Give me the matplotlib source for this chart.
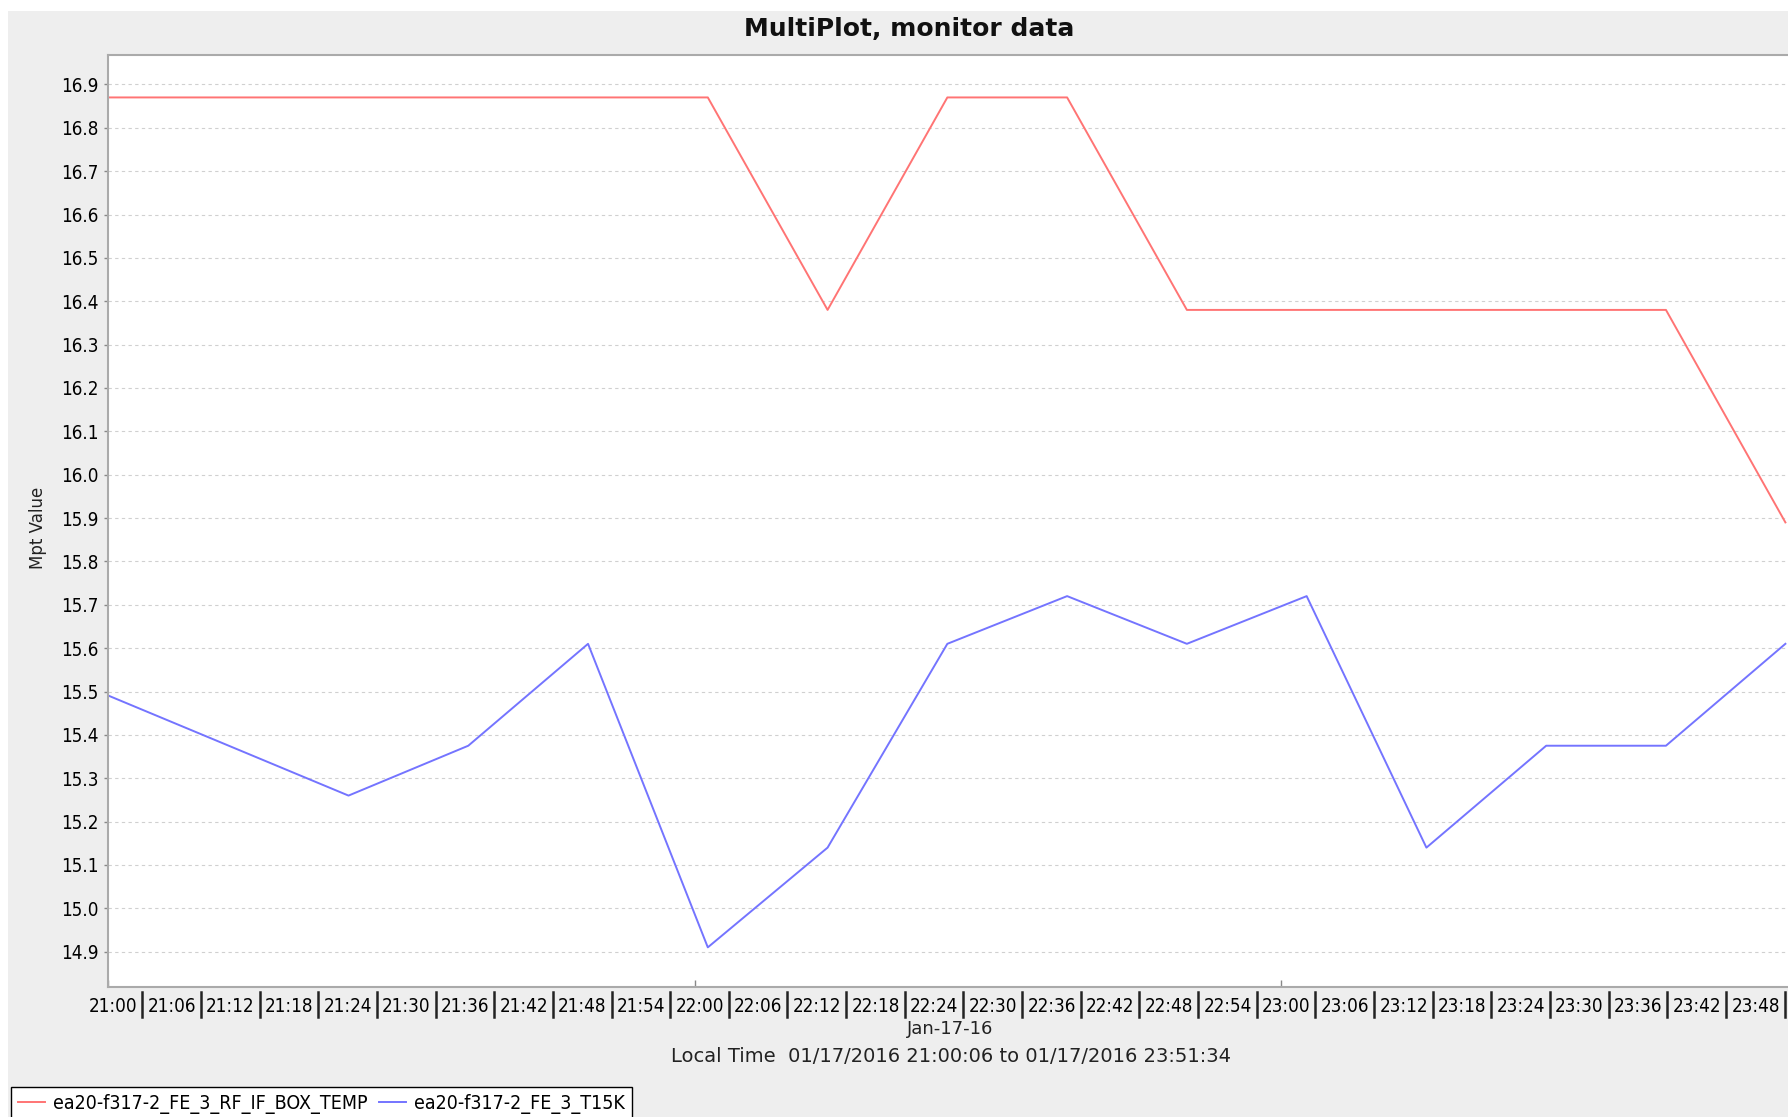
from datetime import datetime, timedelta
import matplotlib
matplotlib.use('Agg')
import matplotlib.pyplot as plt
import matplotlib.dates as mdates
from matplotlib.patches import Rectangle
from matplotlib.lines import Line2D
from matplotlib.transforms import blended_transform_factory, ScaledTranslation


# sample times (local), 17 Jan 2016
times = [
    '21:00:06', '21:12:21', '21:24:36', '21:36:51', '21:49:06',
    '22:01:21', '22:13:36', '22:25:51', '22:38:06', '22:50:21',
    '23:02:36', '23:14:51', '23:27:06', '23:39:21', '23:51:34',
]
rf_if_box_temp = [
    16.87, 16.87, 16.87, 16.87, 16.87,
    16.87, 16.38, 16.87, 16.87, 16.38,
    16.38, 16.38, 16.38, 16.38, 15.89,
]
t15k = [
    15.49, 15.375, 15.26, 15.375, 15.61,
    14.91, 15.14, 15.61, 15.72, 15.61,
    15.72, 15.14, 15.375, 15.375, 15.61,
]
series_names = ['ea20-f317-2_FE_3_RF_IF_BOX_TEMP', 'ea20-f317-2_FE_3_T15K']
series_colors = ['#ff7474', '#7474ff']

day = datetime(2016, 1, 17)
x = [datetime.strptime('2016-01-17 ' + t, '%Y-%m-%d %H:%M:%S') for t in times]

W, H = 1788, 1117
fig = plt.figure(figsize=(W / 100, H / 100), dpi=100)
fig.patch.set_facecolor('white')
fig.patches.append(Rectangle((8 / W, 0), 1, 1 - 11 / H, transform=fig.transFigure,
                             facecolor='#eeeeee', edgecolor='none', zorder=-10))

ax = fig.add_axes([108 / W, 1 - 987 / H, 1 - 108 / W, (987 - 54.5) / H])
ax.set_facecolor('white')

for ys, name, c in zip([rf_if_box_temp, t15k], series_names, series_colors):
    ax.plot(x, ys, color=c, lw=1.4, label=name)

ax.set_ylim(14.8186, 16.969)
ax.set_xlim(day + timedelta(hours=21), day + timedelta(hours=23, minutes=51, seconds=50))

fs_tick = 13.5

# y axis
yt = [round(14.9 + 0.1 * i, 1) for i in range(21)]
ax.set_yticks(yt)
ax.set_yticklabels([f'{v:.1f}' for v in yt],
                   fontdict=dict(family='DejaVu Sans', stretch='condensed', size=fs_tick))
ax.tick_params(axis='y', length=3, width=1, color='#888888', pad=4, direction='out')
ax.grid(axis='y', color='#d0d0d0', ls=(0, (3, 3)), lw=0.8)
ax.set_axisbelow(True)

# x axis: 6 minute labels, hour tick marks
ax.tick_params(axis='x', which='major', length=0, pad=7)
ax.tick_params(axis='x', which='minor', length=5, width=1, color='#888888', direction='in')
xt = [day + timedelta(hours=21, minutes=6 * k) for k in range(29)]
ax.set_xticks(xt)
ax.set_xticklabels([t.strftime('%H:%M') for t in xt],
                   fontdict=dict(family='DejaVu Sans', stretch='condensed', size=fs_tick))
ax.xaxis.set_minor_locator(mdates.HourLocator())
ax.xaxis.remove_overlapping_locs = False
shift = ScaledTranslation(5 / 100, 0, fig.dpi_scale_trans)
for tk in ax.xaxis.get_major_ticks():
    tk.label1.set_transform(tk.label1.get_transform() + shift)

# separators between the time labels
trans = blended_transform_factory(ax.transData, fig.transFigure)
for t in xt:
    xd = mdates.date2num(t + timedelta(minutes=3.5))
    fig.add_artist(Line2D([xd, xd], [1 - 992 / H, 1 - 1017 / H], transform=trans,
                          color='#222222', lw=1.8))

for side in ['left', 'bottom', 'top']:
    ax.spines[side].set_color('#aaaaaa')
    ax.spines[side].set_linewidth(1.5)
ax.spines['right'].set_visible(False)

fig.text(909 / W, 1 - 28.5 / H, 'MultiPlot, monitor data', ha='center', va='center',
         fontsize=18, fontweight='bold', family='DejaVu Sans', color='#111111')
fig.text(38 / W, 1 - 528 / H, 'Mpt Value', rotation=90, ha='center', va='center',
         fontsize=12, family='DejaVu Sans', color='#222222')
fig.text(950 / W, 1 - 1029 / H, 'Jan-17-16', ha='center', va='center',
         fontsize=13, family='DejaVu Sans', color='#222222')
fig.text(951 / W, 1 - 1056 / H, 'Local Time  01/17/2016 21:00:06 to 01/17/2016 23:51:34',
         ha='center', va='center', fontsize=14, family='DejaVu Sans', color='#222222')

leg = fig.legend(loc='upper left', bbox_to_anchor=(11 / W, 1 - 1087 / H), ncol=2,
                 frameon=True, fancybox=False, edgecolor='black', framealpha=1,
                 borderaxespad=0, handlelength=1.4, handletextpad=0.4, columnspacing=0.6,
                 borderpad=0.35, prop=dict(family='DejaVu Sans', stretch='condensed', size=14))
leg.get_frame().set_linewidth(1.0)

fig.savefig('out.png', dpi=100)
